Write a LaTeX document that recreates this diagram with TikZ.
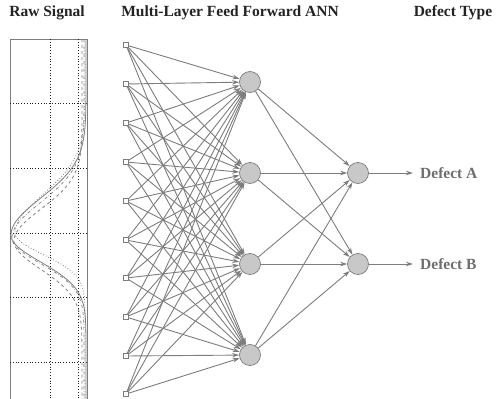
\documentclass[tikz,border=0pt]{standalone}
\usepackage{fontspec}
\setmainfont{Liberation Serif}
\usepackage{tikz}
\usetikzlibrary{shapes,arrows.meta}

\definecolor{edgegray}{RGB}{125,125,125}
\definecolor{nodegray}{RGB}{200,200,200}
\definecolor{textgray}{RGB}{110,110,110}
\definecolor{headgray}{RGB}{35,35,35}

\tikzset{
  inp/.style={draw=edgegray,fill=white,rectangle,minimum size=5pt,inner sep=0pt,line width=0.7pt},
  neuron/.style={draw=edgegray,fill=nodegray,circle,minimum size=21pt,inner sep=0pt,line width=0.7pt},
  link/.style={draw=edgegray,line width=0.9pt,-{Stealth[length=7pt,width=4.5pt]}},
  header/.style={font=\fontsize{15.5}{18}\selectfont\bfseries,text=headgray},
  outtext/.style={font=\fontsize{15.5}{18}\selectfont\bfseries,text=textgray,anchor=west,inner xsep=7pt}
}

\begin{document}
\begin{tikzpicture}[x=1pt,y=-1pt]
\useasboundingbox (0,0) rectangle (496,399);

\node[header] (hraw) at (47,13) {Raw Signal};
\node[header] (hann) at (230,13) {Multi-Layer Feed Forward ANN};
\node[header] (htype) at (453,13) {Defect Type};

% raw signal plot
\draw[edgegray,line width=0.9pt] (10,399) -- (10,39) -- (87,39) -- (87,399);
\draw[headgray,dotted,line width=0.8pt] (50,39) -- (50,399);
\draw[headgray,dotted,line width=0.8pt] (78,39) -- (78,399);
\foreach \yy in {103,168,233,297,362}
  \draw[headgray,dotted,line width=0.8pt] (10,\yy) -- (87,\yy);
\draw[gray,line width=0.8pt] plot[domain=39:399,samples=150,variable=\t]
  ({86-75*exp(-((\t-235)/(\t<235 ? 52 : 38))^2)},\t);
\draw[gray,dashed,line width=0.8pt] plot[domain=39:399,samples=150,variable=\t]
  ({82-68*exp(-((\t-241)/(\t<241 ? 45 : 40))^2)},\t);
\draw[gray,dash dot,line width=0.7pt] plot[domain=39:399,samples=150,variable=\t]
  ({84-72*exp(-((\t-238)/(\t<238 ? 50 : 36))^2)},\t);
\draw[gray,dotted,line width=0.8pt] plot[domain=39:399,samples=150,variable=\t]
  ({85-70*exp(-((\t-233)/(\t<233 ? 54 : 30))^2)},\t);

% input layer
\node[inp] (i1) at (126,45) {};
\node[inp] (i2) at (126,84) {};
\node[inp] (i3) at (126,123) {};
\node[inp] (i4) at (126,162) {};
\node[inp] (i5) at (126,201) {};
\node[inp] (i6) at (126,240) {};
\node[inp] (i7) at (126,278) {};
\node[inp] (i8) at (126,317) {};
\node[inp] (i9) at (126,356) {};
\node[inp] (i10) at (126,394) {};

% hidden layer
\node[neuron] (h1) at (250,82) {};
\node[neuron] (h2) at (250,173) {};
\node[neuron] (h3) at (250,264) {};
\node[neuron] (h4) at (250,355) {};

% output layer
\node[neuron] (o1) at (358,173) {};
\node[neuron] (o2) at (358,264) {};

\node[outtext] (defA) at (413,173) {Defect A};
\node[outtext] (defB) at (413,264) {Defect B};

\foreach \i in {1,...,10}
  \foreach \h in {1,...,4}
    \draw[link] (i\i) -- (h\h);
\foreach \h in {1,...,4}
  \foreach \o in {1,2}
    \draw[link] (h\h) -- (o\o);
\draw[link] (o1) -- (defA);
\draw[link] (o2) -- (defB);

\end{tikzpicture}
\end{document}
